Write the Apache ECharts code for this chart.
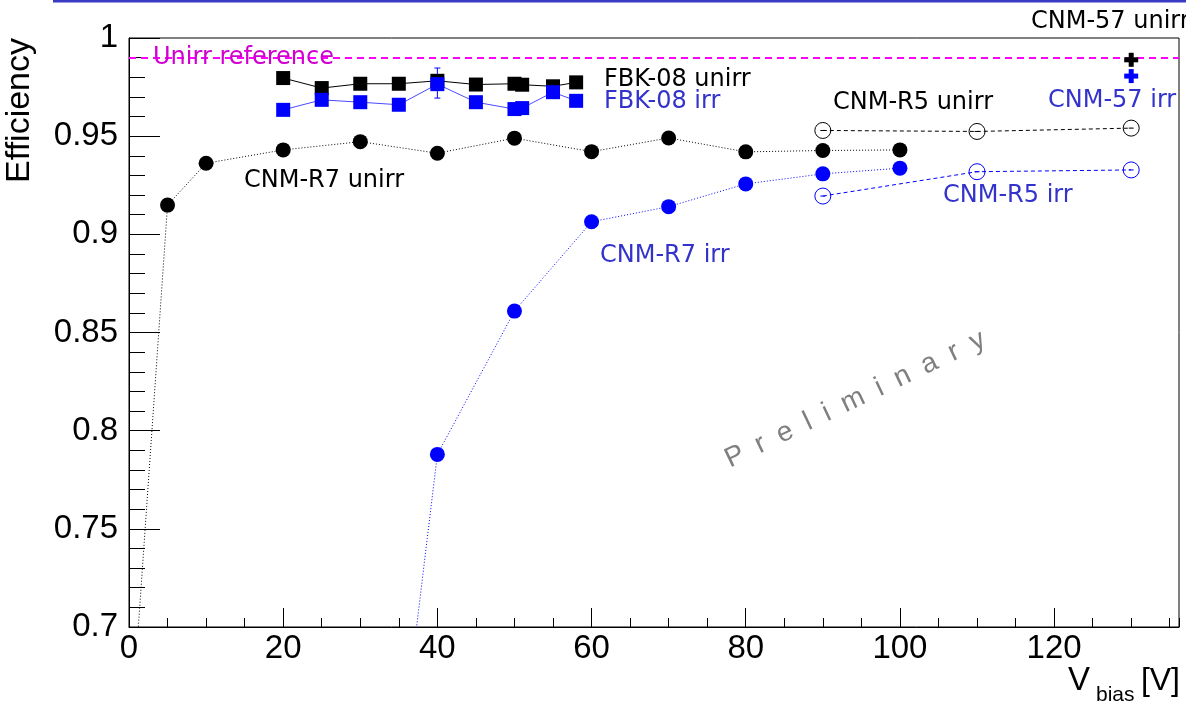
<!DOCTYPE html>
<html>
<head>
<meta charset="utf-8">
<script src="https://cdn.jsdelivr.net/npm/echarts@6/dist/echarts.min.js"></script>
<style>
  html, body { margin: 0; padding: 0; background: #fff; }
  #chart { width: 1186px; height: 705px; }
</style>
</head>
<body>
<div id="chart"></div>
<script>
// ---- data ----
const r7UnirrX = [1, 5, 10, 20, 30, 40, 50, 60, 70, 80, 90, 100];
const r7UnirrY = [0.688, 0.9149, 0.9362, 0.9430, 0.9472, 0.9413, 0.9490, 0.9421, 0.9491, 0.9420, 0.9427, 0.9430];

const r7IrrX = [35, 40, 50, 60, 70, 80, 90, 100];
const r7IrrY = [0.625, 0.7879, 0.8609, 0.9064, 0.9141, 0.9257, 0.9308, 0.9337];

const fbkX = [20, 25, 30, 35, 40, 45, 50, 51, 55, 58];
const fbkUnirrY = [0.9796, 0.9745, 0.9767, 0.9767, 0.9782, 0.9763, 0.9767, 0.9762, 0.9754, 0.9774];
const fbkIrrY = [0.9634, 0.9685, 0.9673, 0.9660, 0.9765, 0.9673, 0.9638, 0.9643, 0.9724, 0.9680];
// error bar visible on FBK-08 irr at 40 V : [x, low, high]
const fbkIrrErr = [[40, 0.9694, 0.9847]];

const r5X = [90, 110, 130];
const r5UnirrY = [0.9529, 0.9524, 0.9541];
const r5IrrY = [0.9195, 0.9319, 0.9328];

const cnm57X = [130];
const cnm57UnirrY = [0.9889];
const cnm57IrrY = [0.9806];

const unirrReference = 0.99;

const xMin = 0, xMax = 136.2, xStep = 20, xMinorStep = 5;
const yMin = 0.7, yMax = 1.0, yStep = 0.05;

const zip = (xs, ys) => xs.map((x, i) => [x, ys[i]]);

// ---- styles ----
const BLUE = '#0000ff';
const BLUE_TXT = '#3333cc';
const LBL_FONT = '24px "DejaVu Sans"';
const openCircle = 'path://M0,8 A8,8 0 1,1 16,8 A8,8 0 1,1 0,8 Z M5.5,8 L10.5,8';

const chart = echarts.init(document.getElementById('chart'), null, { renderer: 'canvas' });

// Letter-spaced "Preliminary"
const measure = document.createElement('canvas').getContext('2d');
measure.font = '28px "Liberation Sans"';
let off = 0;
const prelimChildren = 'Preliminary'.split('').map(ch => {
  const el = { type: 'text', x: off, y: 6,
    style: { text: ch, font: '28px "Liberation Sans"', fill: '#7f7f7f', align: 'left', verticalAlign: 'bottom' } };
  off += measure.measureText(ch).width + 14.5;
  return el;
});

function txt(text, x, y, color, font, align) {
  return { type: 'text', x: x, y: y, z: 100,
    style: { text: text, font: font || LBL_FONT, fill: color, align: align || 'left', verticalAlign: 'middle' } };
}

// thick "+" marker drawn through the axes' scales
function plusSeries(name, data, color) {
  return {
    name: name, type: 'custom', data: data, z: 5,
    renderItem: function (params, api) {
      const p = api.coord([api.value(0), api.value(1)]);
      const L = 14, W = 5;
      const st = { fill: color };
      return { type: 'group', children: [
        { type: 'rect', shape: { x: p[0] - L / 2, y: p[1] - W / 2, width: L, height: W }, style: st },
        { type: 'rect', shape: { x: p[0] - W / 2, y: p[1] - L / 2, width: W, height: L }, style: st }
      ] };
    }
  };
}

const option = {
  animation: false,
  backgroundColor: '#fff',
  grid: { left: 129, top: 38, width: 1050, height: 589, show: true, borderColor: '#000', borderWidth: 1, containLabel: false },
  xAxis: [
    {
      type: 'value', min: xMin, max: xMax, interval: xStep, position: 'bottom',
      axisLine: { show: true, onZero: false, lineStyle: { color: '#000', width: 1 } },
      axisTick: { show: true, inside: true, length: 19, lineStyle: { color: '#000' } },
      axisLabel: { show: true, showMaxLabel: false, margin: 5, color: '#000', fontSize: 33, fontFamily: '"Liberation Sans"' },
      splitLine: { show: false }
    },
    {
      type: 'value', min: xMin, max: xMax, interval: xMinorStep, position: 'bottom',
      axisLine: { show: false },
      axisTick: { show: true, inside: true, length: 9, lineStyle: { color: '#000' } },
      axisLabel: { show: false },
      splitLine: { show: false }
    }
  ],
  yAxis: {
    type: 'value', min: yMin, max: yMax, interval: yStep,
    axisLine: { show: true, onZero: false, lineStyle: { color: '#000', width: 1 } },
    axisTick: { show: true, inside: true, length: 31, lineStyle: { color: '#000' } },
    minorTick: { show: true, splitNumber: 5, length: 16, lineStyle: { color: '#000' } },
    axisLabel: { margin: 11, color: '#000', fontSize: 33, fontFamily: '"Liberation Sans"',
      formatter: v => String(parseFloat(v.toFixed(3))) },
    splitLine: { show: false }
  },
  series: [
    {
      name: 'Unirr reference', type: 'line', data: [], silent: true,
      markLine: { silent: true, symbol: 'none', label: { show: false },
        lineStyle: { color: '#ff00ff', type: [7, 5], width: 2 },
        data: [{ yAxis: unirrReference }] }
    },
    {
      name: 'CNM-R7 unirr', type: 'line', data: zip(r7UnirrX, r7UnirrY),
      symbol: 'circle', symbolSize: 15, showAllSymbol: true,
      itemStyle: { color: '#000' },
      lineStyle: { color: '#000', width: 1, type: [1, 2] }
    },
    {
      name: 'CNM-R7 irr', type: 'line', data: zip(r7IrrX, r7IrrY),
      symbol: 'circle', symbolSize: 15, showAllSymbol: true,
      itemStyle: { color: BLUE },
      lineStyle: { color: BLUE, width: 1, type: [1, 2] }
    },
    {
      name: 'FBK-08 irr err', type: 'custom', data: fbkIrrErr, z: 1,
      renderItem: function (params, api) {
        const x = api.value(0);
        const pHi = api.coord([x, api.value(2)]);
        const pLo = api.coord([x, api.value(1)]);
        const st = { stroke: BLUE, lineWidth: 1 };
        return { type: 'group', children: [
          { type: 'line', shape: { x1: pHi[0], y1: pHi[1], x2: pLo[0], y2: pLo[1] }, style: st },
          { type: 'line', shape: { x1: pHi[0] - 3, y1: pHi[1], x2: pHi[0] + 3, y2: pHi[1] }, style: st },
          { type: 'line', shape: { x1: pLo[0] - 3, y1: pLo[1], x2: pLo[0] + 3, y2: pLo[1] }, style: st }
        ] };
      }
    },
    {
      name: 'FBK-08 unirr', type: 'line', data: zip(fbkX, fbkUnirrY),
      symbol: 'rect', symbolSize: 14, showAllSymbol: true,
      itemStyle: { color: '#000' },
      lineStyle: { color: '#000', width: 1 }
    },
    {
      name: 'FBK-08 irr', type: 'line', data: zip(fbkX, fbkIrrY),
      symbol: 'rect', symbolSize: 14, showAllSymbol: true,
      itemStyle: { color: BLUE },
      lineStyle: { color: '#4a4aff', width: 1 }
    },
    {
      name: 'CNM-R5 unirr', type: 'line', data: zip(r5X, r5UnirrY),
      symbol: openCircle, symbolSize: 16, showAllSymbol: true,
      itemStyle: { color: 'rgba(0,0,0,0)', borderColor: '#000', borderWidth: 1 },
      lineStyle: { color: '#000', width: 1, type: [4, 3] }
    },
    {
      name: 'CNM-R5 irr', type: 'line', data: zip(r5X, r5IrrY),
      symbol: openCircle, symbolSize: 16, showAllSymbol: true,
      itemStyle: { color: 'rgba(0,0,0,0)', borderColor: BLUE, borderWidth: 1 },
      lineStyle: { color: BLUE, width: 1, type: [4, 3] }
    },
    plusSeries('CNM-57 unirr', zip(cnm57X, cnm57UnirrY), '#000'),
    plusSeries('CNM-57 irr', zip(cnm57X, cnm57IrrY), BLUE)
  ],
  graphic: [
    { type: 'rect', shape: { x: 53, y: 0, width: 1133, height: 2.5 }, style: { fill: '#3a3ac4' } },
    { type: 'text', x: 20, y: 38, rotation: Math.PI / 2,
      style: { text: 'Efficiency', font: '34px "Liberation Sans"', fill: '#000', align: 'right', verticalAlign: 'middle' } },
    txt('V', 1068, 681, '#000', '33px "Liberation Sans"'),
    txt('bias', 1096, 695, '#000', '21px "Liberation Sans"'),
    txt('[V]', 1180, 681, '#000', '32px "Liberation Sans"', 'right'),
    txt('Unirr reference', 153, 58, '#d000d0', '24px "DejaVu Sans"'),
    txt('FBK-08 unirr', 604, 80, '#000'),
    txt('FBK-08 irr', 604, 102, BLUE_TXT),
    txt('CNM-R7 unirr', 244, 181, '#000'),
    txt('CNM-R7 irr', 600, 256, BLUE_TXT),
    txt('CNM-R5 unirr', 833, 103, '#000'),
    txt('CNM-R5 irr', 943, 196, BLUE_TXT),
    txt('CNM-57 irr', 1048, 101, BLUE_TXT),
    txt('CNM-57 unirr', 1031, 22, '#000'),
    { type: 'group', x: 730, y: 468, rotation: 25.5 * Math.PI / 180, children: prelimChildren }
  ]
};
chart.setOption(option);
</script>
</body>
</html>
